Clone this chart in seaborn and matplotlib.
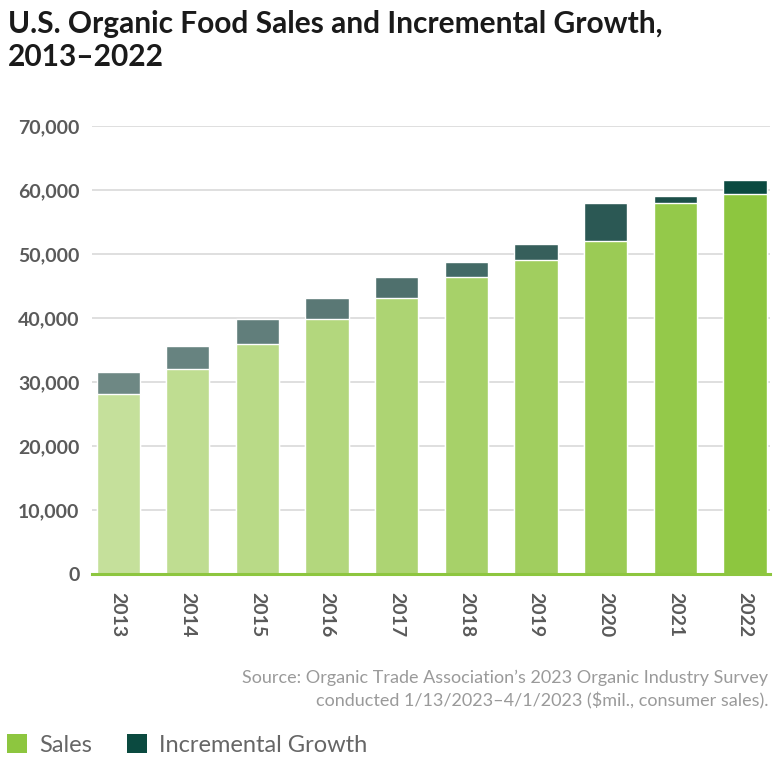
import matplotlib
matplotlib.use("Agg")
import matplotlib.pyplot as plt
from matplotlib.patches import Patch
import seaborn as sns
import pandas as pd

years = ["2013", "2014", "2015", "2016", "2017", "2018", "2019", "2020", "2021", "2022"]
sales = [28200, 32000, 35900, 39800, 43100, 46400, 49000, 52000, 58000, 59300]
growth = [3300, 3700, 3900, 3400, 3300, 2300, 2500, 5900, 1000, 2200]
yticks = [0, 10000, 20000, 30000, 40000, 50000, 60000, 70000]

sales_colors = ['#c5e09b', '#bfdd91', '#b9da87', '#b3d77d', '#add473',
                '#a7d169', '#a1ce5f', '#9bcb55', '#94c94a', '#8dc63f']
growth_colors = ['#6e8884', '#678380', '#617e7b', '#5a7875', '#4f706d',
                 '#436a66', '#365f5b', '#2b5854', '#1c4f49', '#0b4a40']

df = pd.DataFrame({"year": years, "sales": sales, "growth": growth})
df["total"] = df["sales"] + df["growth"]

sns.set_theme(style="white")
plt.rcParams["font.family"] = ["Lato", "DejaVu Sans"]

fig = plt.figure(figsize=(7.77, 7.63), dpi=100)
ax = fig.add_axes([92 / 777, 1 - 574 / 763, (770 - 92) / 777, (574 - 126) / 763])

sns.barplot(data=df, x="year", y="total", hue="year", palette=growth_colors,
            dodge=False, width=0.62, legend=False, ax=ax, saturation=1, zorder=3)
sns.barplot(data=df, x="year", y="sales", hue="year", palette=sales_colors,
            dodge=False, width=0.62, legend=False, ax=ax, saturation=1, zorder=4)

ax.set_xlim(-0.375, 9.36)
ax.set_ylim(0, 70000)
ax.set_yticks(yticks)
ax.set_yticklabels([f"{v:,}" for v in yticks], fontsize=14, fontweight="bold", color="#5a5a5a")
ax.set_xticks(range(len(years)))
ax.set_xticklabels(years, rotation=-90, fontsize=14, fontweight="bold", color="#5a5a5a")
ax.tick_params(axis="y", length=0, pad=9)
ax.tick_params(axis="x", length=0, pad=13)
ax.set_xlabel("")
ax.set_ylabel("")
ax.yaxis.grid(True, color="#d9d9d9", linewidth=1.2, zorder=0)
ax.set_axisbelow(True)
for s in ["left", "right", "top"]:
    ax.spines[s].set_visible(False)
ax.spines["bottom"].set_color("#8dc63f")
ax.spines["bottom"].set_linewidth(2.2)
ax.spines["bottom"].set_zorder(6)

fig.text(8 / 777, 1 - 66 / 763, "U.S. Organic Food Sales and Incremental Growth,\n2013\u20132022",
         fontsize=21.5, fontweight="bold", color="#1a1a1a", ha="left", va="baseline",
         linespacing=1.22)

fig.text(768 / 777, 1 - 706 / 763,
         "Source: Organic Trade Association\u2019s 2023 Organic Industry Survey\nconducted 1/13/2023\u20134/1/2023 ($mil., consumer sales).",
         fontsize=13, color="#9a9a9a", ha="right", va="baseline", linespacing=1.4)

handles = [Patch(facecolor="#8dc63f", edgecolor="none", label="Sales"),
           Patch(facecolor="#0b4a40", edgecolor="none", label="Incremental Growth")]
fig.legend(handles=handles, loc="center left", bbox_to_anchor=(0.0, 1 - 745 / 763),
           ncol=2, frameon=False, fontsize=17, labelcolor="#666666",
           handlelength=0.85, handleheight=0.85, handletextpad=0.5, columnspacing=1.5,
           borderaxespad=0, borderpad=0.3)

fig.savefig("out.png", dpi=100)
